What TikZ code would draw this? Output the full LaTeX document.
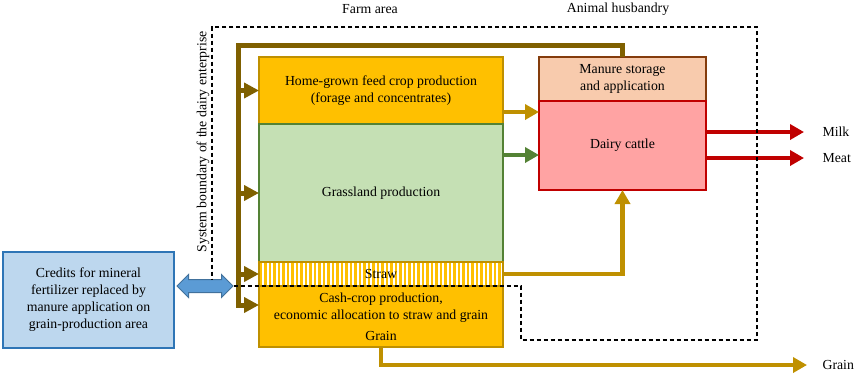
\documentclass[tikz,border=0pt]{standalone}
\usepackage{fontspec}
\setmainfont{Liberation Serif}
\usepackage{tikz}
\usetikzlibrary{arrows.meta,positioning,shapes.arrows,patterns.meta}
\definecolor{feedbrown}{HTML}{7F6000}
\definecolor{cropgold}{HTML}{BF9000}
\definecolor{cropfill}{HTML}{FFC000}
\definecolor{grassgreen}{HTML}{548235}
\definecolor{grassfill}{HTML}{C5E0B4}
\definecolor{manurebrown}{HTML}{843C0C}
\definecolor{manurefill}{HTML}{F8CBAD}
\definecolor{cattlered}{HTML}{C00000}
\definecolor{cattlefill}{HTML}{FFA3A3}
\definecolor{creditblue}{HTML}{2E75B6}
\definecolor{creditfill}{HTML}{BDD7EE}
\definecolor{swapblue}{HTML}{41719C}
\definecolor{swapfill}{HTML}{5B9BD5}

\begin{document}
\begin{tikzpicture}[x=1pt, y=-1pt, node distance=0pt, every node/.style={font=\fontsize{13.8}{17}\selectfont}, box/.style={draw, line width=1.5pt, inner sep=0pt, outer sep=0pt, align=center}, feed/.style={draw=feedbrown, line width=5pt, -{Triangle[length=15pt,width=15pt]}}, fodder/.style={line width=4.5pt, -{Triangle[length=14pt,width=15pt]}}, product/.style={draw=cattlered, line width=4.5pt, -{Triangle[length=14pt,width=15pt]}}, boundary/.style={draw, line width=1.2pt, dash pattern=on 4.5pt off 2.5pt}]
\useasboundingbox (0,0) rectangle (856,376);
\node[box, draw=cropgold, fill=cropfill, minimum width=244pt, minimum height=67pt] (homegrown) at (381,90.5) {Home-grown feed crop production\\(forage and concentrates)};
\node[box, draw=grassgreen, fill=grassfill, minimum width=244pt, minimum height=138pt, below=of homegrown] (grassland) {Grassland production};
\node[box, draw=cropgold, pattern={Lines[angle=90,distance=4.5pt,line width=2.3pt]}, pattern color=cropfill, minimum width=244pt, minimum height=24pt, below=of grassland] (straw) {Straw};
\node[box, draw=cropgold, fill=cropfill, minimum width=244pt, minimum height=61pt, below=of straw] (cashcrop) {Cash-crop production,\\economic allocation to straw and grain\\[4pt]Grain};
\node[box, draw=manurebrown, fill=manurefill, minimum width=167pt, minimum height=44pt] (manure) at (622.5,79) {Manure storage\\and application};
\node[box, draw=cattlered, fill=cattlefill, minimum width=167pt, minimum height=89pt, below=of manure] (cattle) {Dairy cattle};
\node[box, draw=creditblue, fill=creditfill, minimum width=171pt, minimum height=96pt] (credits) at (88.5,300) {Credits for mineral\\fertilizer replaced by\\manure application on\\grain-production area};
\node[double arrow, draw=swapblue, fill=swapfill, line width=1pt, minimum height=56pt, inner xsep=0pt, inner ysep=6pt, double arrow head extend=5pt] (swap) at (205,286) {};
\node[anchor=west] (milk) at (819,132) {Milk};
\node[anchor=west] (meat) at (819,158) {Meat};
\node[anchor=west] (grainout) at (819,365) {Grain};
\node (farmarea) at (370,9) {Farm area};
\node (animalhus) at (618,9) {Animal husbandry};
\node[rotate=90] (sysbound) at (203,142) {System boundary of the dairy enterprise};
\coordinate (looptop) at (238,45);
\coordinate (hgout) at ([yshift=12pt]homegrown.south east);
\coordinate (glout) at ([yshift=-31pt]grassland.north east);
% manure goes back to the fields
\draw[feed] (manure.north) |- (looptop) |- ([yshift=11.5pt]cashcrop.west);
\foreach \target in {homegrown,grassland,straw}
  \draw[feed] (looptop |- \target.west) -- (\target.west);
% feed to the herd
\draw[fodder, draw=cropgold] (hgout) -- (hgout -| cattle.west);
\draw[fodder, draw=grassgreen] (glout) -- (glout -| cattle.west);
\draw[fodder, draw=cropgold] (straw.east) -| (cattle.south);
\draw[fodder, draw=cropgold] (cashcrop.south) |- ([xshift=-12pt]grainout.west);
\draw[product] ([yshift=13.5pt]cattle.east) -- ([xshift=-15pt]milk.west);
\draw[product] ([yshift=-12.5pt]cattle.east) -- ([xshift=-15pt]meat.west);
\draw[boundary] (swap.east) -| (521,340) -| (757,27) -| (212,280);
\end{tikzpicture}
\end{document}
